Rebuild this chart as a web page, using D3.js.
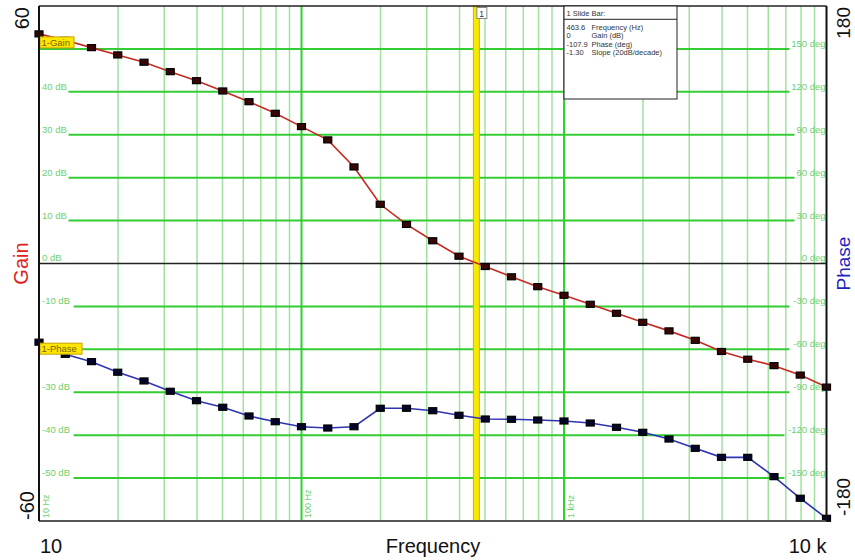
<!DOCTYPE html>
<html>
<head>
<meta charset="utf-8">
<script src="https://cdn.jsdelivr.net/npm/d3@7"></script>
<style>
  html, body { margin: 0; padding: 0; background: #fff; }
  svg { display: block; font-family: "Liberation Sans", Arial, sans-serif; }
</style>
</head>
<body>
<svg id="chart" width="855" height="560"></svg>
<script>
// ---------------- data ----------------
const freqHz = [10, 12.59, 15.85, 19.95, 25.12, 31.62, 39.81, 50.12, 63.10, 79.43,
  100, 125.9, 158.5, 199.5, 251.2, 316.2, 398.1, 501.2, 631.0, 794.3,
  1000, 1259, 1585, 1995, 2512, 3162, 3981, 5012, 6310, 7943, 10000];
const gainDb = [53.5, 52.0, 50.3, 48.6, 46.9, 44.7, 42.6, 40.2, 37.7, 35.0,
  31.9, 28.8, 22.5, 13.8, 9.1, 5.3, 1.7, -0.7, -3.1, -5.4,
  -7.4, -9.5, -11.6, -13.7, -15.7, -17.9, -20.5, -22.3, -23.8, -26.0, -28.8];
const phaseDeg = [-55.0, -63.5, -68.6, -76.0, -82.1, -89.3, -95.9, -100.5, -106.6, -110.6,
  -114.1, -115.0, -114.1, -101.2, -101.2, -102.9, -106.1, -108.7, -108.9, -109.4,
  -110.1, -111.5, -114.5, -118.0, -122.7, -129.2, -135.5, -135.5, -149.0, -164.1, -178.1];

const gainGridDb = [50, 40, 30, 20, 10, -10, -20, -30, -40, -50];
const gainGridLabels = ["", "40 dB", "30 dB", "20 dB", "10 dB", "-10 dB", "", "-30 dB", "-40 dB", "-50 dB"];
const phaseGridLabels = ["150 deg", "120 deg", "90 deg", "60 deg", "30 deg", "-30 deg", "-60 deg", "-90 deg", "-120 deg", "-150 deg"];
const decadeLabels = [{f: 10, t: "10 Hz"}, {f: 100, t: "100 Hz"}, {f: 1000, t: "1 kHz"}];
const minorFreqs = [20, 30, 40, 50, 60, 70, 80, 90, 200, 300, 400, 500, 600, 700, 800, 900,
  2000, 3000, 4000, 5000, 6000, 7000, 8000, 9000];
const majorFreqs = [100, 1000];

const sliderFreq = 463.6;
const sliderRows = [
  ["463.6", "Frequency (Hz)"],
  ["0", "Gain (dB)"],
  ["-107.9", "Phase (deg)"],
  ["-1.30", "Slope (20dB/decade)"]
];

// ---------------- layout ----------------
const L = 39, R = 826.5, T = 6, B = 521;
const svg = d3.select("#chart");
svg.append("rect").attr("width", 855).attr("height", 560).attr("fill", "#fff");

const x = d3.scaleLog().domain([10, 10000]).range([L, R]);
const yG = d3.scaleLinear().domain([-60, 60]).range([B, T]);
const yP = d3.scaleLinear().domain([-180, 180]).range([B, T]);

const grid = svg.append("g");
// minor vertical lines
grid.selectAll("line.minor").data(minorFreqs).enter().append("line")
  .attr("x1", d => x(d)).attr("x2", d => x(d)).attr("y1", T).attr("y2", B)
  .attr("stroke", "#9fe29f").attr("stroke-width", 1.5);
grid.selectAll("line.major").data(majorFreqs).enter().append("line")
  .attr("x1", d => x(d)).attr("x2", d => x(d)).attr("y1", T).attr("y2", B)
  .attr("stroke", "#2ed12e").attr("stroke-width", 2);

// horizontal grid lines, interrupted by their labels
const labelFont = 9.5;
const lblColor = "#6fcf6f";
gainGridDb.forEach((d, i) => {
  const yy = yG(d);
  const leftEnd = gainGridLabels[i] ? L + 4 + gainGridLabels[i].length * 5.1 : L;
  const rightStart = R - 2 - phaseGridLabels[i].length * 5.0;
  grid.append("line").attr("x1", leftEnd).attr("x2", rightStart).attr("y1", yy).attr("y2", yy)
    .attr("stroke", "#33cc33").attr("stroke-width", 2);
  if (gainGridLabels[i]) {
    grid.append("text").attr("x", L + 3).attr("y", yy - 2).attr("font-size", labelFont)
      .attr("fill", lblColor).text(gainGridLabels[i]);
  }
  grid.append("text").attr("x", R - 1).attr("y", yy - 2).attr("font-size", labelFont)
    .attr("text-anchor", "end").attr("fill", lblColor).text(phaseGridLabels[i]);
});
// zero labels
grid.append("text").attr("x", L + 3).attr("y", yG(0) - 3).attr("font-size", labelFont)
  .attr("fill", lblColor).text("0 dB");
grid.append("text").attr("x", R - 1).attr("y", yG(0) - 3).attr("font-size", labelFont)
  .attr("text-anchor", "end").attr("fill", lblColor).text("0 deg");
// zero line
grid.append("line").attr("x1", L).attr("x2", R).attr("y1", yG(0)).attr("y2", yG(0))
  .attr("stroke", "#222").attr("stroke-width", 1.5);

// decade labels, rotated
decadeLabels.forEach(d => {
  const xx = x(d.f) + (d.f === 10 ? 10 : 9.5);
  grid.append("text")
    .attr("transform", `translate(${xx},${B - 3}) rotate(-90)`)
    .attr("font-size", 9).attr("fill", lblColor).text(d.t);
});

// slider bar (yellow)
const sx = x(sliderFreq);
svg.append("rect").attr("x", sx - 3).attr("y", T).attr("width", 6).attr("height", B - T)
  .attr("fill", "#f7ea00").attr("stroke", "#c9b800").attr("stroke-width", 1);

// data lines
const gainLine = d3.line().x((d, i) => x(freqHz[i])).y(d => yG(d));
const phaseLine = d3.line().x((d, i) => x(freqHz[i])).y(d => yP(d));
svg.append("path").attr("d", gainLine(gainDb)).attr("fill", "none")
  .attr("stroke", "#c42a22").attr("stroke-width", 1.6);
svg.append("path").attr("d", phaseLine(phaseDeg)).attr("fill", "none")
  .attr("stroke", "#2f34b0").attr("stroke-width", 1.6);

// markers
const mw = 8, mh = 6;
svg.append("g").selectAll("rect").data(gainDb).enter().append("rect")
  .attr("x", (d, i) => x(freqHz[i]) - mw / 2).attr("y", d => yG(d) - mh / 2)
  .attr("width", mw).attr("height", mh)
  .attr("fill", "#3a0505").attr("stroke", "#000").attr("stroke-width", 1.2);
svg.append("g").selectAll("rect").data(phaseDeg).enter().append("rect")
  .attr("x", (d, i) => x(freqHz[i]) - mw / 2).attr("y", d => yP(d) - mh / 2)
  .attr("width", mw).attr("height", mh)
  .attr("fill", "#05052a").attr("stroke", "#000").attr("stroke-width", 1.2);

// series tags
function tag(px, py, w, label) {
  const g = svg.append("g");
  g.append("rect").attr("x", px).attr("y", py).attr("width", w).attr("height", 11)
    .attr("fill", "#ffe600").attr("stroke", "#c8a200").attr("stroke-width", 1);
  g.append("text").attr("x", px + 1.5).attr("y", py + 8.8).attr("font-size", 9.5)
    .attr("fill", "#7a6400").text(label);
}
tag(x(freqHz[0]) + 1, yG(gainDb[0]) + 3, 34, "1-Gain");
tag(x(freqHz[0]) + 1, yP(phaseDeg[0]) + 1, 42, "1-Phase");

// frame
svg.append("line").attr("x1", L).attr("x2", R).attr("y1", B).attr("y2", B)
  .attr("stroke", "#555").attr("stroke-width", 2);
svg.append("line").attr("x1", L).attr("x2", R).attr("y1", T).attr("y2", T)
  .attr("stroke", "#222").attr("stroke-width", 1.5);
svg.append("line").attr("x1", L).attr("x2", L).attr("y1", T).attr("y2", B)
  .attr("stroke", "#111").attr("stroke-width", 2);
svg.append("line").attr("x1", R).attr("x2", R).attr("y1", T).attr("y2", B)
  .attr("stroke", "#111").attr("stroke-width", 2);

// slider "1" flag
svg.append("rect").attr("x", sx + 0.5).attr("y", T + 1.5).attr("width", 10).attr("height", 11)
  .attr("fill", "#fff").attr("stroke", "#888").attr("stroke-width", 1);
svg.append("text").attr("x", sx + 3).attr("y", T + 10.5).attr("font-size", 8.5)
  .attr("fill", "#333").text("1");

// slide bar info box
const bx = 564, by = T, bw = 113, bh = 93;
svg.append("rect").attr("x", bx).attr("y", by).attr("width", bw).attr("height", bh)
  .attr("fill", "#fff").attr("stroke", "#222").attr("stroke-width", 1);
svg.append("line").attr("x1", bx).attr("x2", bx + bw).attr("y1", by + 13.3).attr("y2", by + 13.3)
  .attr("stroke", "#222").attr("stroke-width", 1);
svg.append("text").attr("x", bx + 2.5).attr("y", by + 10).attr("font-size", 7.5)
  .attr("fill", "#333").text("1  Slide Bar:");
sliderRows.forEach((r, i) => {
  const yy = by + 23.5 + i * 8.6;
  svg.append("text").attr("x", bx + 2.5).attr("y", yy).attr("font-size", 7.5)
    .attr("fill", "#333").text(r[0]);
  svg.append("text").attr("x", bx + 27.5).attr("y", yy).attr("font-size", 7.5)
    .attr("fill", "#333").text(r[1]);
});

// axis titles and end values
const big = 20;
svg.append("text").attr("transform", `translate(29,${T + 1}) rotate(-90)`)
  .attr("text-anchor", "end").attr("font-size", big).attr("fill", "#111").text("60");
svg.append("text").attr("transform", `translate(34,${B - 1}) rotate(-90)`)
  .attr("text-anchor", "start").attr("font-size", big).attr("fill", "#111").text("-60");
svg.append("text").attr("transform", `translate(28,${yG(0)}) rotate(-90)`)
  .attr("text-anchor", "middle").attr("font-size", big).attr("fill", "#e02020").text("Gain");

svg.append("text").attr("transform", `translate(850,${T + 1}) rotate(-90)`)
  .attr("text-anchor", "end").attr("font-size", 19).attr("fill", "#111").text("180");
svg.append("text").attr("transform", `translate(850,${B - 5}) rotate(-90)`)
  .attr("text-anchor", "start").attr("font-size", 19).attr("fill", "#111").text("-180");
svg.append("text").attr("transform", `translate(850,${yG(0)}) rotate(-90)`)
  .attr("text-anchor", "middle").attr("font-size", 19).attr("fill", "#1f1fc0").text("Phase");

svg.append("text").attr("x", L + 1).attr("y", 553).attr("font-size", big)
  .attr("fill", "#111").text("10");
svg.append("text").attr("x", 433).attr("y", 553).attr("font-size", big)
  .attr("text-anchor", "middle").attr("fill", "#111").text("Frequency");
svg.append("text").attr("x", R).attr("y", 553).attr("font-size", big)
  .attr("text-anchor", "end").attr("fill", "#111").text("10 k");
</script>
</body>
</html>
